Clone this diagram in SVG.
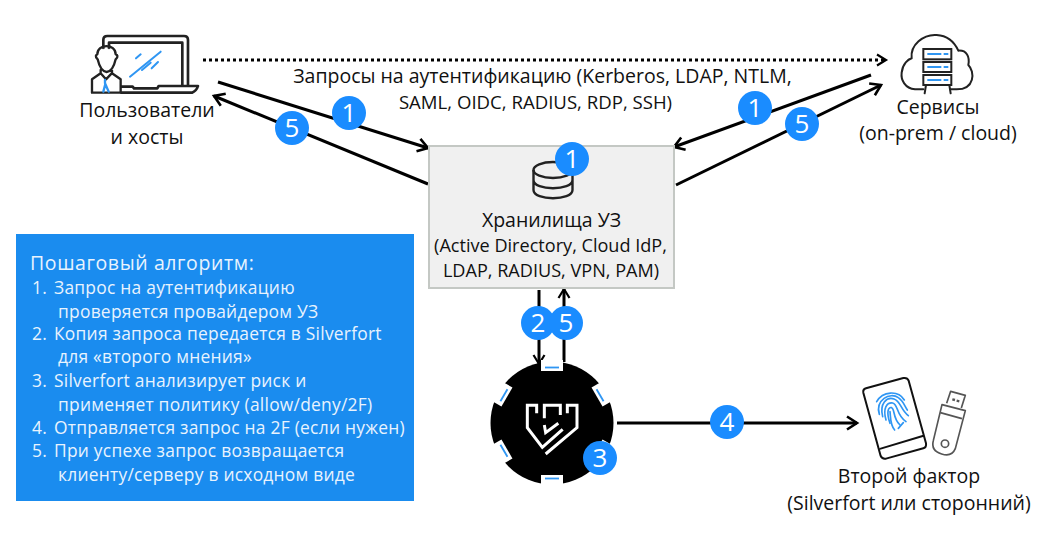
<svg xmlns="http://www.w3.org/2000/svg" width="1042" height="541" viewBox="0 0 1042 541">
<defs>
<marker id="arr" markerUnits="userSpaceOnUse" markerWidth="16" markerHeight="16" refX="13" refY="8" orient="auto"><path d="M3 1.500L13 8L3 14.500" fill="none" stroke="#000" stroke-width="2.600"/></marker>
<marker id="arrs" markerUnits="userSpaceOnUse" markerWidth="14" markerHeight="14" refX="11" refY="7" orient="auto"><path d="M2 1.500L11 7L2 12.500" fill="none" stroke="#000" stroke-width="2.200"/></marker>
</defs>
<style>
text{font-family:"Open Sans","Noto Sans","DejaVu Sans",sans-serif;fill:#111}
.l{font-size:19.500px;text-anchor:middle}
.s{font-size:18.100px;text-anchor:middle}
.p{font-size:17.400px;fill:#e8f3fe;letter-spacing:.25px}
.c{stroke:#000;stroke-width:3;fill:none}
.bc{fill:#1a8cff}
.bn{font-size:26px;fill:#fff;text-anchor:middle}
.ic{fill:none;stroke:#222;stroke-width:3;stroke-linejoin:round;stroke-linecap:round}
.bl{fill:none;stroke:#2f96f3;stroke-linecap:round}
</style>
<rect width="1042" height="541" fill="#fff"/>
<g id="connectors">
<path class="c" d="M203 60H886" stroke-dasharray="3 3" marker-end="url(#arrs)"/>
<path class="c" d="M218 82L428 148" marker-end="url(#arr)"/>
<path class="c" d="M428 184L214 96" marker-end="url(#arr)"/>
<path class="c" d="M871 75L674 147" marker-end="url(#arr)"/>
<path class="c" d="M676 185L881 85" marker-end="url(#arr)"/>
<path class="c" d="M539 290V364" marker-end="url(#arrs)"/>
<path class="c" d="M564 362V289" marker-end="url(#arrs)"/>
<path class="c" d="M617 423H857" marker-end="url(#arr)"/>
</g>
<g id="users">
<g transform="translate(60 20) scale(.3333)">
<path class="ic" style="stroke-width:8" d="M130 85V60Q130 48 142 48H372Q384 48 384 60V197M147 85V68H367V197"/>
<path class="ic" style="stroke-width:8" d="M184 200H218L222 205H292L296 198H414Q410 212 396 218H184"/>
<path fill="#fff" stroke="#fff" stroke-width="2" d="M100 88H180V150H100Z"/>
<path class="ic" style="stroke-width:7" d="M113 118C104 110 108 104 112 103C112 70 167 70 167 103C172 104 176 110 167 118C162 140 152 155 140 156C128 155 118 140 113 118ZM122 150V160L96 178V218H182V178L156 160V150M122 160L138 178L155 160"/>
<path class="bl" style="stroke-width:7" d="M135 180V190M130 215L136 192M146 215L136 192"/>
<path class="bl" style="stroke-width:6" d="M228 115L242 103M210 170L302 95M246 150L272 128M275 145L294 126"/>
</g>
<text class="l" x="147" y="117">Пользователи</text>
<text class="l" x="147" y="144">и хосты</text>
</g>
<g id="services">
<g transform="translate(860 20) scale(.3333)">
<path class="ic" style="stroke-width:6" d="M190 208H165C135 205 122 180 125 158C128 130 145 118 155 115C150 75 190 42 230 45C265 47 285 70 295 92C320 90 330 110 325 135C345 155 345 208 290 208H270"/>
<g fill="#fff" stroke="#222" stroke-width="6"><rect x="190" y="87" width="84" height="31"/><rect x="190" y="126" width="84" height="30"/><rect x="190" y="165" width="84" height="30"/></g>
<path class="ic" style="stroke-width:6" d="M198 195L194 220M268 195L272 220"/>
<g stroke="#2f96f3" stroke-width="6"><path d="M202 102H244M251 102H265M202 141H244M251 141H265M202 180H244M251 180H265"/></g>
</g>
<text class="l" x="938" y="114">Сервисы</text>
<text class="l" x="938" y="140">(on-prem / cloud)</text>
</g>
<g id="prompt"><text class="l" x="542.500" y="82.500">Запросы на аутентификацию (Kerberos, LDAP, NTLM,</text>
<text class="l" style="font-size:18.600px" x="535.500" y="108.500">SAML, OIDC, RADIUS, RDP, SSH)</text></g>
<g id="store">
<rect x="429" y="146" width="245" height="142" fill="#f0f0f0" stroke="#c4c8c4" stroke-width="2"/>
<g fill="none" stroke="#222" stroke-width="2.400">
<ellipse cx="553" cy="170" rx="19.500" ry="8"/>
<path d="M533.500 170V190C533.500 201 572.500 201 572.500 190V170M533.500 180C533.500 191 572.500 191 572.500 180"/>
</g>
<text class="l" x="551.500" y="227">Хранилища УЗ</text>
<text class="s" x="550.500" y="252">(Active Directory, Cloud IdP,</text>
<text class="s" x="551" y="277">LDAP, RADIUS, VPN, PAM)</text>
</g>
<g id="panel">
<rect x="16" y="234" width="398" height="267" fill="#1a8cef"/>
<text x="30" y="270" style="font-size:19.500px;letter-spacing:.6px;fill:#e8f3fe">Пошаговый алгоритм:</text>
<text class="p" x="32" y="294">1.</text><text class="p" x="54" y="294">Запрос на аутентификацию</text>
<text class="p" x="58" y="318">проверяется провайдером УЗ</text>
<text class="p" x="32" y="340">2.</text><text class="p" x="54" y="340">Копия запроса передается в Silverfort</text>
<text class="p" x="58" y="363">для «второго мнения»</text>
<text class="p" x="32" y="387">3.</text><text class="p" x="54" y="387">Silverfort анализирует риск и</text>
<text class="p" x="58" y="411">применяет политику (allow/deny/2F)</text>
<text class="p" x="32" y="434">4.</text><text class="p" x="54" y="434">Отправляется запрос на 2F (если нужен)</text>
<text class="p" x="32" y="457">5.</text><text class="p" x="54" y="457">При успехе запрос возвращается</text>
<text class="p" x="58" y="481">клиенту/серверу в исходном виде</text>
</g>
<g id="silverfort">
<circle cx="552" cy="423" r="61.500" fill="#000"/>
<g id="notches">
<g><rect x="541" y="360" width="22" height="11" fill="#fff"/><path d="M545 367.500H559" stroke="#2f96f3" stroke-width="1.800"/></g>
<g transform="rotate(60 552 423)"><rect x="541" y="360" width="22" height="11" fill="#fff"/><path d="M545 367.500H559" stroke="#2f96f3" stroke-width="1.800"/></g>
<g transform="rotate(120 552 423)"><rect x="541" y="360" width="22" height="11" fill="#fff"/><path d="M545 367.500H559" stroke="#2f96f3" stroke-width="1.800"/></g>
<g transform="rotate(180 552 423)"><rect x="541" y="360" width="22" height="11" fill="#fff"/><path d="M545 367.500H559" stroke="#2f96f3" stroke-width="1.800"/></g>
<g transform="rotate(240 552 423)"><rect x="541" y="360" width="22" height="11" fill="#fff"/><path d="M545 367.500H559" stroke="#2f96f3" stroke-width="1.800"/></g>
<g transform="rotate(300 552 423)"><rect x="541" y="360" width="22" height="11" fill="#fff"/><path d="M545 367.500H559" stroke="#2f96f3" stroke-width="1.800"/></g>
</g>
<g transform="translate(515 390) scale(.3333)" fill="none" stroke="#fff" stroke-width="9">
<path d="M65 70V46H37V113L82 172L143 118M92 192L186 113V46H157V70M88 85V46H136V75M88 105L92 128L130 100"/>
</g>
</g>
<g id="factor">
<g transform="translate(840 370) scale(.3333)">
<path class="ic" style="stroke:#111;stroke-width:6" d="M70 68Q68 58 78 55L190 24Q202 22 206 32L258 220Q260 232 250 235L138 266Q126 268 122 258ZM122 236L248 198"/>
<g fill="none" stroke="#555" stroke-width="5" stroke-linejoin="round">
<path d="M320 100L332 64L376 76L364 114"/>
<path d="M306 104L376 122L346 236Q335 262 305 252Q272 242 280 212Z"/>
<path d="M301 128L366 146"/><circle cx="315" cy="221" r="11"/>
</g>
<path d="M337 88l8 2M350 92l8 2" stroke="#555" stroke-width="7"/>
</g>
<g transform="translate(870 375) scale(.3333)" class="bl" style="stroke-width:5">
<path d="M20 80C38 48 85 45 103 75"/>
<path d="M28 118C15 75 60 50 85 68C100 78 105 95 112 105"/>
<path d="M38 125C28 85 50 65 72 72C92 78 92 105 115 122"/>
<path d="M48 135C38 100 50 82 68 84C85 88 78 120 108 140"/>
<path d="M60 145C48 110 55 95 65 98C75 102 68 130 90 150"/>
<path d="M74 165C60 150 62 125 60 110"/>
<path d="M85 160L100 143"/>
</g>
<text class="l" x="909" y="483">Второй фактор</text>
<text class="l" x="909" y="510">(Silverfort или сторонний)</text>
</g>
<g id="badges">
<g><circle class="bc" cx="349" cy="113" r="17"/><text class="bn" x="349" y="122">1</text></g>
<g><circle class="bc" cx="292" cy="128" r="17"/><text class="bn" x="292" y="137">5</text></g>
<g><circle class="bc" cx="755" cy="108" r="17"/><text class="bn" x="755" y="117">1</text></g>
<g><circle class="bc" cx="802" cy="124" r="17"/><text class="bn" x="802" y="133">5</text></g>
<g><circle class="bc" cx="572" cy="159" r="17"/><text class="bn" x="572" y="168">1</text></g>
<g><circle class="bc" cx="538" cy="323" r="17"/><text class="bn" x="538" y="332">2</text></g>
<g><circle class="bc" cx="566" cy="323" r="17"/><text class="bn" x="566" y="332">5</text></g>
<g><circle class="bc" cx="600" cy="458" r="17"/><text class="bn" x="600" y="467">3</text></g>
<g><circle class="bc" cx="727" cy="422" r="17"/><text class="bn" x="727" y="431">4</text></g>
</g>
</svg>
